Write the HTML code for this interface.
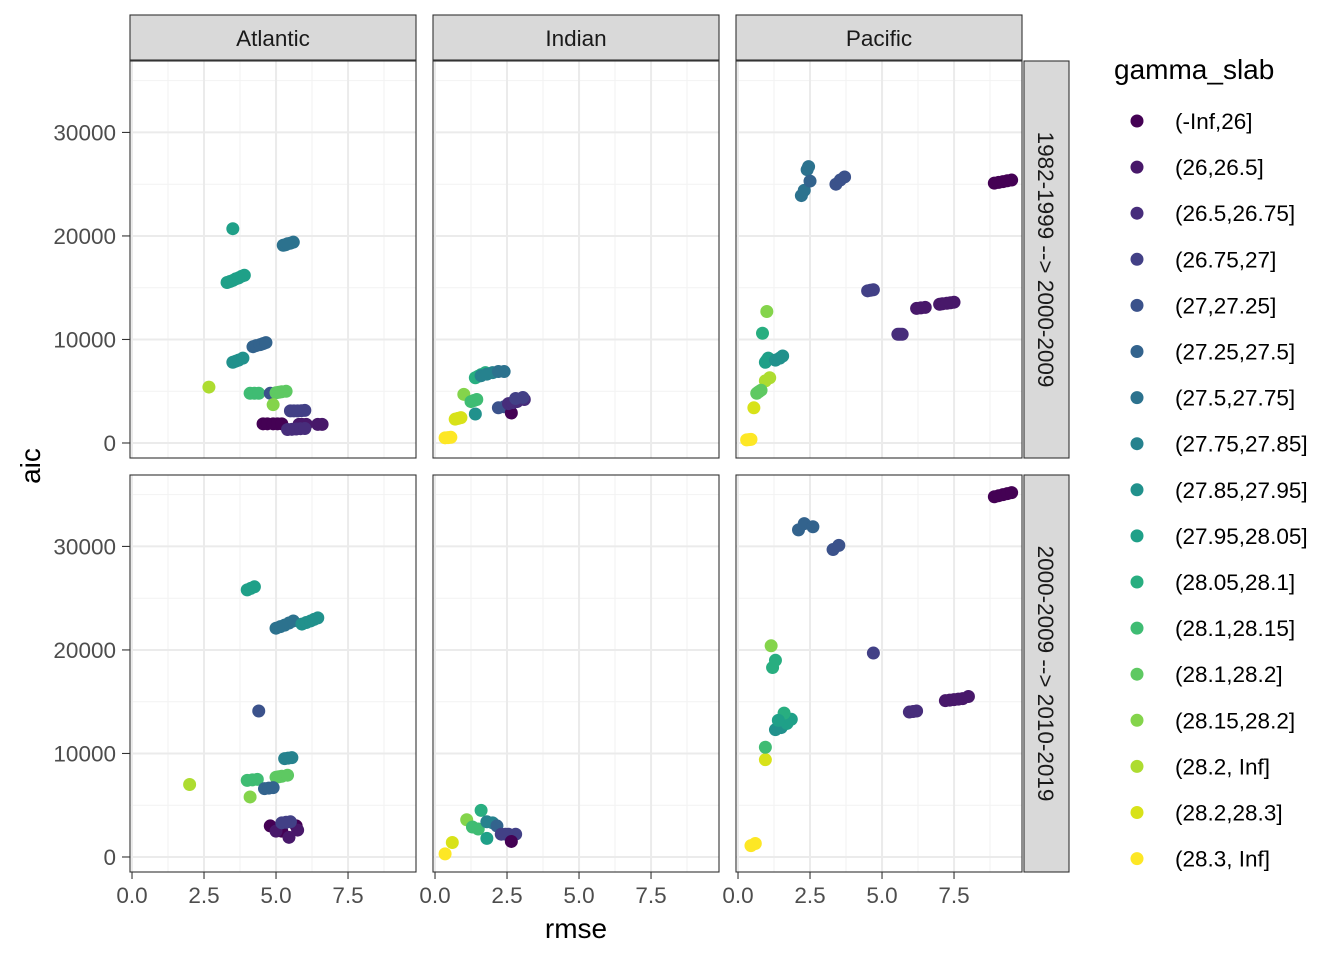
<!DOCTYPE html>
<html><head><meta charset="utf-8"><style>
body{margin:0;background:#fff;}
svg text{font-family:"Liberation Sans",sans-serif;}
</style></head><body>
<svg id="chart" width="1344" height="960" xmlns="http://www.w3.org/2000/svg"></svg>
<script>
const levels = ["(-Inf,26]","(26,26.5]","(26.5,26.75]","(26.75,27]","(27,27.25]","(27.25,27.5]","(27.5,27.75]","(27.75,27.85]","(27.85,27.95]","(27.95,28.05]","(28.05,28.1]","(28.1,28.15]","(28.1,28.2]","(28.15,28.2]","(28.2, Inf]","(28.2,28.3]","(28.3, Inf]"];
const colors = ["#440154","#48186a","#472d7b","#424086","#3b528b","#33638d","#2c728e","#26828e","#21918c","#1fa088","#28ae80","#3fbc73","#5ec962","#84d44b","#addc30","#d8e219","#fde725"];
const basins = ["Atlantic","Indian","Pacific"];
const periods = ["1982-1999 --> 2000-2009","2000-2009 --> 2010-2019"];
const xTicks = [0,2.5,5,7.5];
const yTicks = [0,10000,20000,30000];
// each point: [basinIndex, periodIndex, rmse, aic, gammaLevel]
const points = [
// Atlantic top
[0,0,2.67,5400,14],[0,0,3.5,20700,9],[0,0,3.3,15500,9],[0,0,3.4,15600,9],[0,0,3.5,15700,9],[0,0,3.6,15850,9],[0,0,3.7,15950,9],[0,0,3.8,16100,9],[0,0,3.9,16200,9],
[0,0,5.25,19100,6],[0,0,5.33,19150,6],[0,0,5.4,19250,6],[0,0,5.5,19300,6],[0,0,5.6,19400,6],
[0,0,3.5,7800,8],[0,0,3.6,7900,8],[0,0,3.7,8000,8],[0,0,3.85,8200,8],
[0,0,4.2,9300,5],[0,0,4.3,9400,5],[0,0,4.45,9500,5],[0,0,4.55,9600,5],[0,0,4.65,9700,5],
[0,0,4.1,4800,11],[0,0,4.25,4800,11],[0,0,4.4,4800,11],
[0,0,4.8,4800,4],[0,0,5.0,4850,12],[0,0,5.1,4900,12],[0,0,5.2,4950,12],[0,0,5.35,5000,12],
[0,0,4.9,3700,13],
[0,0,5.5,3100,3],[0,0,5.62,3100,3],[0,0,5.75,3100,3],[0,0,5.88,3120,3],[0,0,6.0,3150,3],
[0,0,4.55,1850,0],[0,0,4.7,1850,0],[0,0,4.9,1850,0],[0,0,5.05,1850,0],[0,0,5.2,1850,0],
[0,0,5.8,1800,1],[0,0,5.9,1800,1],[0,0,6.05,1800,1],[0,0,6.45,1800,1],[0,0,6.6,1800,1],
[0,0,5.4,1300,2],[0,0,5.55,1320,2],[0,0,5.7,1350,2],[0,0,5.85,1380,2],[0,0,6.0,1400,2],
// Indian top
[1,0,0.35,500,16],[1,0,0.45,520,16],[1,0,0.55,550,16],[1,0,0.7,2300,15],[1,0,0.8,2380,15],[1,0,0.9,2450,15],[1,0,1.0,4700,13],
[1,0,1.25,4000,11],[1,0,1.35,4100,11],[1,0,1.45,4200,11],[1,0,1.4,2800,8],
[1,0,1.4,6300,10],[1,0,1.5,6450,10],[1,0,1.6,6600,10],[1,0,1.75,6800,10],
[1,0,1.6,6500,7],[1,0,1.8,6650,7],[1,0,2.0,6800,7],[1,0,2.2,6900,6],[1,0,2.4,6900,6],
[1,0,2.2,3400,4],[1,0,2.4,3500,4],[1,0,2.6,3600,4],[1,0,2.65,2900,0],
[1,0,2.55,3800,2],[1,0,2.7,3900,2],[1,0,2.85,4000,2],[1,0,3.1,4200,2],[1,0,2.8,4300,3],[1,0,3.05,4400,3],
// Pacific top
[2,0,0.3,300,16],[2,0,0.38,320,16],[2,0,0.45,350,16],[2,0,0.55,3400,15],[2,0,0.95,6000,14],[2,0,1.1,6300,14],
[2,0,0.65,4800,12],[2,0,0.72,4950,12],[2,0,0.8,5100,12],[2,0,1.0,12700,13],[2,0,0.85,10600,10],
[2,0,0.95,7800,9],[2,0,1.0,8000,9],[2,0,1.05,8200,9],[2,0,1.3,8000,8],[2,0,1.45,8200,8],[2,0,1.55,8400,8],
[2,0,2.2,23900,6],[2,0,2.3,24400,6],[2,0,2.4,26400,6],[2,0,2.45,26700,6],[2,0,2.5,25300,5],
[2,0,3.4,25000,4],[2,0,3.55,25400,4],[2,0,3.7,25700,4],
[2,0,4.5,14700,3],[2,0,4.6,14750,3],[2,0,4.7,14800,3],[2,0,5.55,10500,2],[2,0,5.62,10500,2],[2,0,5.7,10500,2],
[2,0,6.2,13000,1],[2,0,6.35,13050,1],[2,0,6.5,13100,1],[2,0,7.0,13400,1],[2,0,7.1,13450,1],[2,0,7.25,13500,1],[2,0,7.38,13550,1],[2,0,7.5,13600,1],
[2,0,8.9,25100,0],[2,0,9.05,25170,0],[2,0,9.2,25250,0],[2,0,9.35,25330,0],[2,0,9.5,25400,0],
// Atlantic bottom
[0,1,2.0,7000,14],[0,1,4.0,25800,9],[0,1,4.12,25950,9],[0,1,4.25,26100,9],
[0,1,5.0,22100,6],[0,1,5.15,22250,6],[0,1,5.3,22400,6],[0,1,5.45,22600,6],[0,1,5.6,22800,6],[0,1,5.9,22500,8],[0,1,6.05,22650,8],[0,1,6.2,22800,8],[0,1,6.32,22950,8],[0,1,6.45,23100,8],
[0,1,4.4,14100,4],[0,1,5.3,9500,7],[0,1,5.42,9550,7],[0,1,5.55,9600,7],
[0,1,4.0,7400,11],[0,1,4.18,7450,11],[0,1,4.35,7500,11],[0,1,5.0,7700,12],[0,1,5.1,7750,12],[0,1,5.2,7800,12],[0,1,5.4,7900,12],
[0,1,4.6,6600,5],[0,1,4.75,6650,5],[0,1,4.9,6700,5],[0,1,4.1,5800,13],
[0,1,4.8,3000,0],[0,1,5.2,2500,0],[0,1,5.7,3000,0],[0,1,5.0,2500,1],[0,1,5.45,1900,1],[0,1,5.75,2600,1],
[0,1,5.2,3300,3],[0,1,5.35,3350,3],[0,1,5.5,3400,3],
// Indian bottom
[1,1,0.35,300,16],[1,1,0.6,1400,15],[1,1,1.1,3600,13],[1,1,1.3,2900,11],[1,1,1.5,2700,11],
[1,1,1.6,4500,10],[1,1,1.8,3400,7],[1,1,2.0,3300,7],[1,1,1.8,1800,9],[1,1,2.15,3000,5],
[1,1,2.3,2200,3],[1,1,2.45,2200,3],[1,1,2.55,2200,3],[1,1,2.8,2200,3],[1,1,2.65,1500,0],
// Pacific bottom
[2,1,0.45,1100,16],[2,1,0.6,1300,16],[2,1,0.95,9400,15],[2,1,0.95,10600,11],[2,1,1.15,20400,13],
[2,1,1.2,18300,10],[2,1,1.3,19000,10],[2,1,1.3,12300,8],[2,1,1.5,12500,8],[2,1,1.7,12900,9],[2,1,1.85,13300,9],
[2,1,1.6,13900,10],[2,1,1.4,13200,9],
[2,1,2.1,31600,5],[2,1,2.3,32200,5],[2,1,2.6,31900,5],[2,1,3.3,29700,4],[2,1,3.5,30100,4],
[2,1,4.7,19700,3],[2,1,5.95,14000,2],[2,1,6.08,14050,2],[2,1,6.2,14100,2],
[2,1,7.2,15100,1],[2,1,7.35,15150,1],[2,1,7.5,15200,1],[2,1,7.65,15250,1],[2,1,7.8,15300,1],[2,1,8.0,15500,1],
[2,1,8.9,34800,0],[2,1,9.05,34900,0],[2,1,9.2,35000,0],[2,1,9.35,35100,0],[2,1,9.5,35200,0]
];

const svg = document.getElementById('chart');
const NS = "http://www.w3.org/2000/svg";
function mk(tag, attrs, parent){const e=document.createElementNS(NS,tag);for(const k in attrs)e.setAttribute(k,attrs[k]);(parent||svg).appendChild(e);return e;}
const panelX=[130,433,736], panelW=286, panelY=[61,475], panelH=397;
const xMin=-0.07, xMax=9.86, yMin=-1450, yMax=36900;
function sx(b,v){return panelX[b]+(v-xMin)/(xMax-xMin)*panelW;}
function sy(p,v){return panelY[p]+panelH-(v-yMin)/(yMax-yMin)*panelH;}

for(let p=0;p<2;p++){for(let b=0;b<3;b++){
  const g=mk('g',{});
  
  
  mk('rect',{x:panelX[b],y:panelY[p],width:panelW,height:panelH,fill:'#fff'},g);
  for(let v=1.25;v<10;v+=2.5)mk('line',{x1:sx(b,v),x2:sx(b,v),y1:panelY[p],y2:panelY[p]+panelH,stroke:'#f2f2f2','stroke-width':1},g);
  for(let v=5000;v<37000;v+=10000)mk('line',{x1:panelX[b],x2:panelX[b]+panelW,y1:sy(p,v),y2:sy(p,v),stroke:'#f2f2f2','stroke-width':1},g);
  xTicks.forEach(v=>mk('line',{x1:sx(b,v),x2:sx(b,v),y1:panelY[p],y2:panelY[p]+panelH,stroke:'#ebebeb','stroke-width':2},g));
  yTicks.forEach(v=>mk('line',{x1:panelX[b],x2:panelX[b]+panelW,y1:sy(p,v),y2:sy(p,v),stroke:'#ebebeb','stroke-width':2},g));
  points.filter(d=>d[0]===b&&d[1]===p).forEach(d=>{
    const c=mk('circle',{cx:sx(b,d[2]),cy:sy(p,d[3]),r:6.5,fill:colors[d[4]]},g);
    
    
  });
  mk('rect',{x:panelX[b],y:panelY[p],width:panelW,height:panelH,fill:'none',stroke:'#333','stroke-width':1.1},g);
}}
// top strips
basins.forEach((n,b)=>{
  const r=mk('rect',{x:panelX[b],y:15,width:panelW,height:45,fill:'#d9d9d9',stroke:'#333','stroke-width':1.1});
  
  const t=mk('text',{x:panelX[b]+panelW/2,y:46,'text-anchor':'middle','font-size':22.5,fill:'#1a1a1a'});t.textContent=n;
  
});
// right strips
periods.forEach((n,p)=>{
  const r=mk('rect',{x:1024,y:panelY[p],width:45,height:panelH,fill:'#d9d9d9',stroke:'#333','stroke-width':1.1});
  
  const cx=1038,cy=panelY[p]+panelH/2;
  const t=mk('text',{x:cx,y:cy,'text-anchor':'middle','font-size':22.5,fill:'#1a1a1a',transform:`rotate(90 ${cx} ${cy})`});t.textContent=n;
  
});
// y axis
for(let p=0;p<2;p++){yTicks.forEach(v=>{
  mk('line',{x1:122,x2:130,y1:sy(p,v),y2:sy(p,v),stroke:'#333','stroke-width':1.1});
  const t=mk('text',{x:116,y:sy(p,v)+8,'text-anchor':'end','font-size':22.5,fill:'#4d4d4d'});t.textContent=v;
  
});}
// x axis
for(let b=0;b<3;b++){xTicks.forEach(v=>{
  mk('line',{x1:sx(b,v),x2:sx(b,v),y1:872,y2:879,stroke:'#333','stroke-width':1.1});
  const t=mk('text',{x:sx(b,v),y:903,'text-anchor':'middle','font-size':22.5,fill:'#4d4d4d'});t.textContent=v.toFixed(1);
  
});}
let t=mk('text',{x:576,y:938,'text-anchor':'middle','font-size':28,fill:'#000'});t.textContent='rmse';

t=mk('text',{x:40,y:466,'text-anchor':'middle','font-size':28,fill:'#000',transform:'rotate(-90 40 466)'});t.textContent='aic';

// legend
t=mk('text',{x:1114,y:79,'font-size':28,fill:'#000'});t.textContent='gamma_slab';

levels.forEach((l,i)=>{
  const y=121+46.1*i;
  const g=mk('g',{});
  
  mk('circle',{cx:1137,cy:y,r:6.5,fill:colors[i]},g);
  const tt=mk('text',{x:1175,y:y+8,'font-size':22.5,fill:'#000'},g);tt.textContent=l;
});
</script>
</body></html>
